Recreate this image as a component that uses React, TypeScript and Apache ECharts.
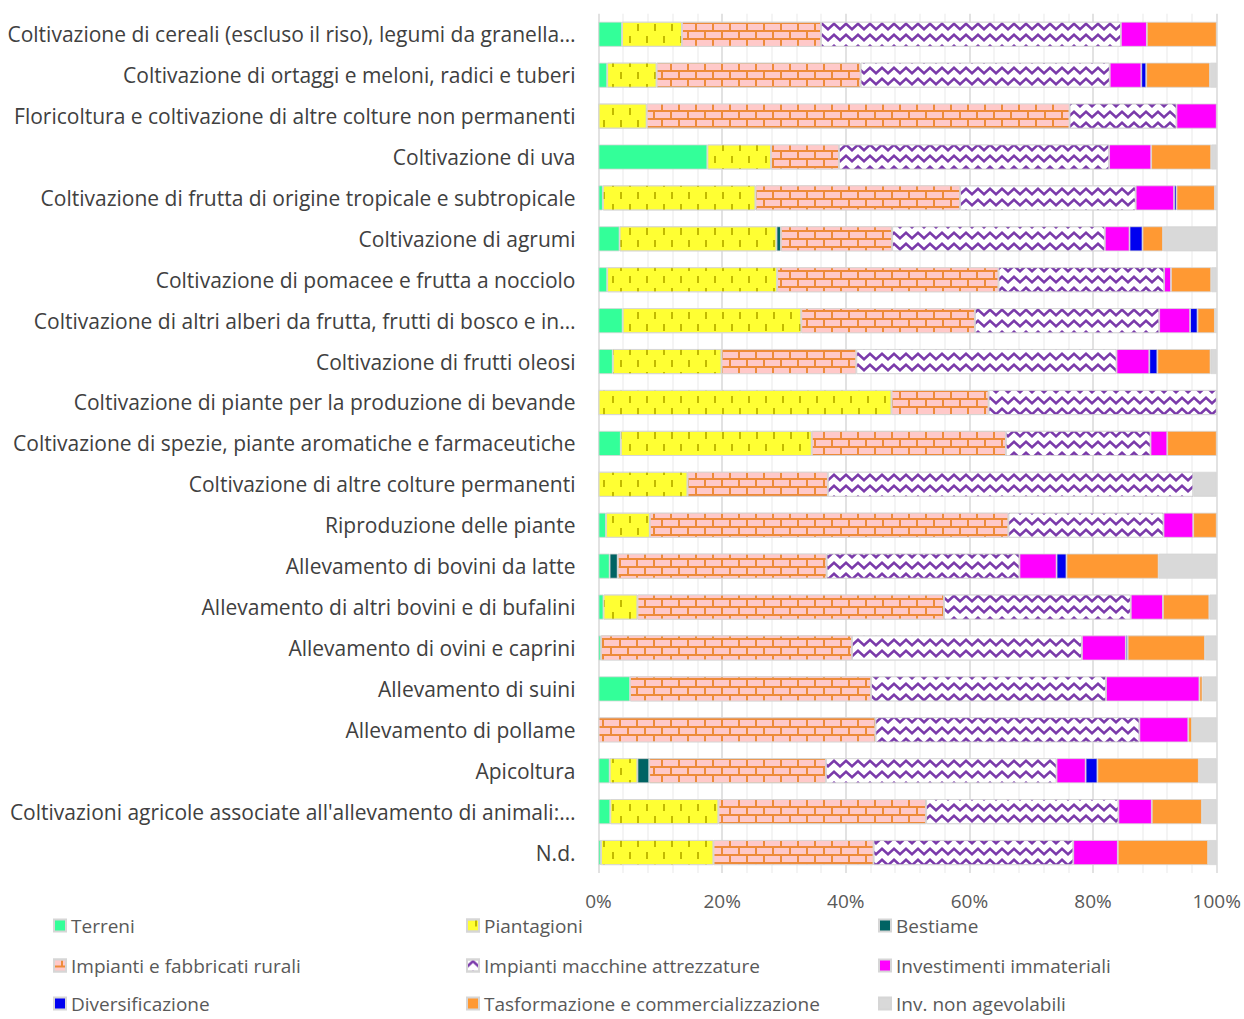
import React, { useEffect, useRef } from "react";
import * as echarts from "echarts";

// Sectors of activity (top to bottom)
const categories = [
  "Coltivazione di cereali (escluso il riso), legumi da granella…",
  "Coltivazione di ortaggi e meloni, radici e tuberi",
  "Floricoltura e coltivazione di altre colture non permanenti",
  "Coltivazione di uva",
  "Coltivazione di frutta di origine tropicale e subtropicale",
  "Coltivazione di agrumi",
  "Coltivazione di pomacee e frutta a nocciolo",
  "Coltivazione di altri alberi da frutta, frutti di bosco e in…",
  "Coltivazione di frutti oleosi",
  "Coltivazione di piante per la produzione di bevande",
  "Coltivazione di spezie, piante aromatiche e farmaceutiche",
  "Coltivazione di altre colture permanenti",
  "Riproduzione delle piante",
  "Allevamento di bovini da latte",
  "Allevamento di altri bovini e di bufalini",
  "Allevamento di ovini e caprini",
  "Allevamento di suini",
  "Allevamento di pollame",
  "Apicoltura",
  "Coltivazioni agricole associate all'allevamento di animali:…",
  "N.d.",
];

// Share of investment (%) by type, one value per sector
const terreni = [3.8, 1.4, 0, 17.6, 0.7, 3.4, 1.4, 3.9, 2.3, 0, 3.6, 0, 1.2, 1.8, 0.8, 0.4, 5.1, 0, 1.8, 1.9, 0.4];
const piantagioni = [9.7, 8.0, 7.8, 10.3, 24.7, 25.4, 27.5, 28.9, 17.6, 47.4, 30.9, 14.4, 7.1, 0, 5.5, 0, 0, 0, 4.5, 17.5, 18.2];
const bestiame = [0, 0, 0, 0, 0, 0.7, 0, 0, 0, 0, 0, 0, 0, 1.3, 0, 0, 0, 0, 1.9, 0, 0];
const impiantiFabbricati = [22.5, 33.0, 68.4, 11.0, 33.1, 18.0, 35.8, 28.1, 21.8, 15.7, 31.4, 22.7, 58.0, 33.8, 49.6, 40.6, 39.0, 44.8, 28.6, 33.6, 25.9];
const impiantiMacchine = [48.5, 40.3, 17.3, 43.7, 28.4, 34.4, 26.8, 29.8, 42.1, 36.9, 23.4, 59.1, 25.1, 31.2, 30.2, 37.2, 38.0, 42.7, 37.3, 31.1, 32.3];
const immateriali = [4.2, 5.1, 6.5, 6.8, 6.2, 4.0, 1.1, 5.0, 5.3, 0, 2.7, 0, 4.8, 6.0, 5.2, 7.1, 15.1, 7.9, 4.7, 5.4, 7.2];
const diversificazione = [0, 0.8, 0, 0, 0.4, 2.1, 0, 1.2, 1.3, 0, 0, 0, 0, 1.6, 0, 0.3, 0, 0, 1.9, 0, 0];
const trasformazione = [11.3, 10.3, 0, 9.7, 6.2, 3.3, 6.5, 2.8, 8.6, 0, 8.0, 0, 3.8, 14.9, 7.5, 12.5, 0.5, 0.6, 16.4, 8.1, 14.6];
const nonAgevolabili = [0, 1.1, 0, 0.9, 0.3, 8.7, 0.9, 0.3, 1.0, 0, 0, 3.8, 0, 9.4, 1.2, 1.9, 2.3, 4.0, 2.9, 2.4, 1.4];

const seriesNames = [
  "Terreni",
  "Piantagioni",
  "Bestiame",
  "Impianti e fabbricati rurali",
  "Impianti macchine attrezzature",
  "Investimenti immateriali",
  "Diversificazione",
  "Tasformazione e commercializzazione",
  "Inv. non agevolabili",
];
const seriesValues = [
  terreni,
  piantagioni,
  bestiame,
  impiantiFabbricati,
  impiantiMacchine,
  immateriali,
  diversificazione,
  trasformazione,
  nonAgevolabili,
];

const xTicks = [0, 20, 40, 60, 80, 100];

const FONT = "'Open Sans', 'Noto Sans', sans-serif";
const LABEL_SIZE = 21;
const SMALL_SIZE = 19;

// Fill patterns
const plantDecal = {
  symbol: "rect",
  symbolSize: 1,
  symbolKeepAspect: false,
  color: "#C2BA00",
  dashArrayX: [
    [2, 15],
    [0, 8, 2, 7],
  ],
  dashArrayY: [7, 5],
};
const brickDecal = {
  symbol: "rect",
  symbolSize: 1,
  symbolKeepAspect: false,
  color: "#FFC9C9",
  dashArrayX: [
    [15, 2],
    [7, 2, 8, 0],
  ],
  dashArrayY: [6, 2],
};
const zigzagDecal = {
  symbol: "path://M0 5.5 L6 0 L12 5.5 L12 9 L6 3.5 L0 9 Z",
  symbolSize: 1,
  symbolKeepAspect: false,
  color: "#7A3AAA",
  dashArrayX: [12, 0],
  dashArrayY: [9, 2],
};

const seriesStyles: any[] = [
  { color: "#33FF99" },
  { color: "#FFFF33", decal: plantDecal },
  { color: "#006363" },
  { color: "#ED8B3A", decal: brickDecal },
  { color: "#FFFFFF", decal: zigzagDecal },
  { color: "#FF00FF" },
  { color: "#0000F0" },
  { color: "#FF9933" },
  { color: "#D9D9D9" },
];

const legendCols = [53, 466, 878];
const legendRows = [916, 956, 994];

export default function App() {
  const ref = useRef<HTMLDivElement>(null);

  useEffect(() => {
    if (!ref.current) return;
    const chart = echarts.init(ref.current, null, { renderer: "svg" });

    const series = seriesNames.map((name, i) => ({
      name,
      type: "bar",
      stack: "total",
      barWidth: 25,
      data: seriesValues[i].map((v) => (v === 0 ? null : v)),
      itemStyle: {
        ...seriesStyles[i],
        borderColor: "#D6D6D6",
        borderWidth: 0.8,
      },
      emphasis: { disabled: true },
    }));

    const legends = seriesNames.map((name, i) => ({
      data: [name],
      left: legendCols[i % 3],
      top: legendRows[Math.floor(i / 3)],
      orient: "horizontal",
      padding: 0,
      icon: "rect",
      itemWidth: 12,
      itemHeight: 12,
      selectedMode: false,
      textStyle: { fontSize: SMALL_SIZE, color: "#595959", fontFamily: FONT },
    }));

    chart.setOption({
      animation: false,
      backgroundColor: "#FFFFFF",
      textStyle: { fontFamily: FONT },
      grid: {
        left: 598.5,
        right: 27.3,
        top: 13.8,
        height: 859.2,
        containLabel: false,
        outerBoundsMode: "none",
      },
      legend: legends,
      xAxis: {
        type: "value",
        min: xTicks[0],
        max: xTicks[xTicks.length - 1],
        interval: 20,
        axisLine: { show: false },
        axisTick: { show: false },
        axisLabel: {
          formatter: "{value}%",
          fontSize: SMALL_SIZE,
          color: "#595959",
          fontFamily: FONT,
          margin: 18,
        },
        splitLine: { show: true, lineStyle: { color: "#D9D9D9", width: 1.5 } },
        minorTick: { show: false, splitNumber: 5 },
        minorSplitLine: { show: true, lineStyle: { color: "#F0F0F0", width: 1.5 } },
      },
      yAxis: {
        type: "category",
        data: categories,
        inverse: true,
        axisLine: { show: false },
        axisTick: { show: false },
        axisLabel: {
          fontSize: LABEL_SIZE,
          color: "#404040",
          fontFamily: FONT,
          margin: 23,
        },
        splitLine: { show: false },
      },
      series,
    });

    return () => chart.dispose();
  }, []);

  return (
    <div
      ref={ref}
      style={{ position: "fixed", left: 0, top: 0, width: 1244, height: 1019 }}
    />
  );
}
